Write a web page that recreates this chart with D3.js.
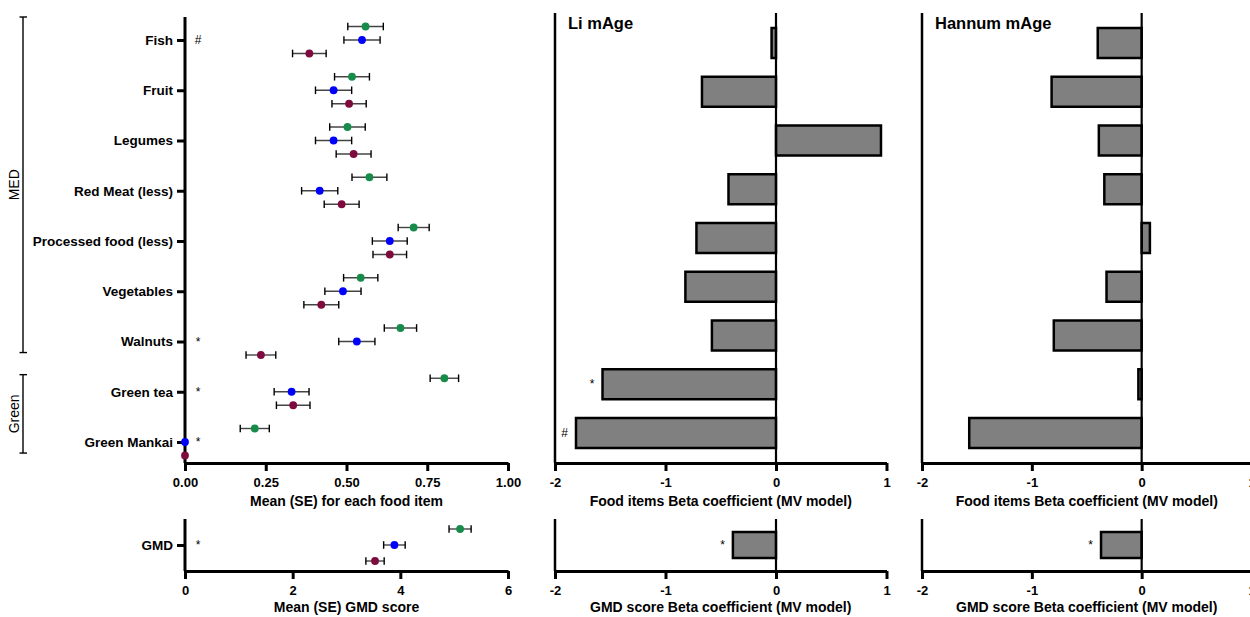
<!DOCTYPE html>
<html>
<head>
<meta charset="utf-8">
<script src="https://cdn.jsdelivr.net/npm/d3@7"></script>
<style>
body { margin: 0; background: #fff; }
svg text { font-family: "Liberation Sans", Arial, Helvetica, sans-serif; fill: #000; }
</style>
</head>
<body>
<svg id="chart" width="1250" height="617"></svg>
<script>
"use strict";

// Food items, top to bottom
const foods = ["Fish", "Fruit", "Legumes", "Red Meat (less)", "Processed food (less)",
    "Vegetables", "Walnuts", "Green tea", "Green Mankai"];

// Three diet groups (drawn green, blue, maroon)
const seriesNames = ["green", "blue", "maroon"];
const seriesColors = ["#178b4a", "#0000ff", "#7e0b3e"];

// Mean (SE) for each food item
const greenMean = [0.559, 0.517, 0.503, 0.571, 0.708, 0.544, 0.667, 0.803, 0.216];
const greenSE = [0.055, 0.054, 0.055, 0.054, 0.048, 0.053, 0.050, 0.044, 0.045];
const blueMean = [0.548, 0.460, 0.460, 0.417, 0.634, 0.489, 0.532, 0.330, 0];
const blueSE = [0.056, 0.056, 0.056, 0.056, 0.054, 0.056, 0.056, 0.054, 0];
const maroonMean = [0.385, 0.508, 0.522, 0.485, 0.634, 0.422, 0.235, 0.335, 0];
const maroonSE = [0.052, 0.053, 0.054, 0.054, 0.052, 0.054, 0.046, 0.052, 0];
const foodMarks = ["#", "", "", "", "", "", "*", "*", "*"];

// Mean (SE) GMD score, green / blue / maroon
const gmdMean = [5.11, 3.89, 3.53];
const gmdSE = [0.205, 0.20, 0.17];
const gmdMark = "*";

// Beta coefficients (MV model)
const liBeta = [-0.04, -0.67, 0.95, -0.43, -0.72, -0.82, -0.58, -1.57, -1.81];
const liMarks = ["", "", "", "", "", "", "", "*", "#"];
const hannumBeta = [-0.40, -0.82, -0.39, -0.34, 0.075, -0.32, -0.80, -0.03, -1.57];
const hannumMarks = ["", "", "", "", "", "", "", "", ""];
const liGmdBeta = -0.39;
const hannumGmdBeta = -0.37;

// Tick values
const meanTicks = [0, 0.25, 0.5, 0.75, 1];
const gmdTicks = [0, 2, 4, 6];
const betaTicks = [-2, -1, 0, 1];

// Food groups at the far left
const foodGroups = [
    {name: "MED", first: "Fish", last: "Walnuts"},
    {name: "Green", first: "Green tea", last: "Green Mankai"}
];

const svg = d3.select("#chart");

// Layout
const topPanel = {top: 17, bottom: 463},
    gmdPanel = {top: 519, bottom: 571},
    betaTop = 13;

const meanX = d3.scaleLinear().domain([0, 1]).range([185, 508]),
    gmdX = d3.scaleLinear().domain([0, 6]).range([185, 508]),
    foodY = d3.scalePoint().domain(foods).range([40, 442]),
    gmdY = d3.scalePoint().domain(["GMD"]).range([545, 545]),
    seriesOffset = d3.scalePoint().domain(seriesNames).range([-13.5, 13.5]),
    gmdOffset = d3.scalePoint().domain(seriesNames).range([-16, 16]),
    seriesColor = d3.scaleOrdinal().domain(seriesNames).range(seriesColors),
    liX = d3.scaleLinear().domain([-2, 1]).range([555, 886.5]),
    hannumX = d3.scaleLinear().domain([-2, 1]).range([922, 1251.5]),
    betaY = d3.scalePoint().domain(foods).range([43, 433]);

function styleAxis(g, size) {
    g.select(".domain").attr("stroke", "#000").attr("stroke-width", 3);
    g.selectAll(".tick line").attr("stroke", "#000").attr("stroke-width", 3);
    g.selectAll(".tick text")
        .attr("font-size", size || 13)
        .attr("font-weight", "bold")
        .attr("fill", "#000");
}

function axisTitle(x, y, text) {
    svg.append("text")
        .attr("x", x).attr("y", y)
        .attr("text-anchor", "middle")
        .attr("font-size", 14)
        .attr("font-weight", "bold")
        .text(text);
}

function drawDots(rows, xScale, yScale, offset) {
    const g = svg.append("g");
    const pts = g.selectAll("g.pt").data(rows).enter().append("g")
        .attr("transform", (d) => `translate(0,${yScale(d.cat) + offset(d.series)})`);
    pts.filter((d) => d.se > 0).append("line")
        .attr("x1", (d) => xScale(d.mean - d.se))
        .attr("x2", (d) => xScale(d.mean + d.se))
        .attr("stroke", "#444").attr("stroke-width", 1.4);
    [-1, 1].forEach((s) => {
        pts.filter((d) => d.se > 0).append("line")
            .attr("x1", (d) => xScale(d.mean + s * d.se))
            .attr("x2", (d) => xScale(d.mean + s * d.se))
            .attr("y1", -3.8).attr("y2", 3.8)
            .attr("stroke", "#000").attr("stroke-width", 1.4);
    });
    pts.append("circle")
        .attr("cx", (d) => xScale(d.mean))
        .attr("r", 3.9)
        .attr("fill", (d) => seriesColor(d.series));
}

function drawMarks(x, yScale, cats, marks) {
    svg.append("g").selectAll("text")
        .data(cats.map((c, i) => ({cat: c, mark: marks[i]})).filter((d) => d.mark))
        .enter().append("text")
        .attr("x", x)
        .attr("y", (d) => yScale(d.cat) + 4)
        .attr("text-anchor", "middle")
        .attr("font-size", 12)
        .text((d) => d.mark);
}

// ---------- Left: mean (SE) per food item ----------
const foodRows = [];
foods.forEach((f, i) => {
    foodRows.push({cat: f, series: "green", mean: greenMean[i], se: greenSE[i]});
    foodRows.push({cat: f, series: "blue", mean: blueMean[i], se: blueSE[i]});
    foodRows.push({cat: f, series: "maroon", mean: maroonMean[i], se: maroonSE[i]});
});

svg.append("g")
    .attr("transform", `translate(0,${topPanel.bottom})`)
    .call(d3.axisBottom(meanX).tickValues(meanTicks).tickFormat(d3.format(".2f"))
        .tickSize(8).tickPadding(7).tickSizeOuter(0))
    .call((g) => styleAxis(g));

svg.append("g")
    .attr("transform", `translate(${meanX(0)},0)`)
    .call(d3.axisLeft(foodY).tickSize(8).tickPadding(4).tickSizeOuter(0))
    .call((g) => styleAxis(g, 13.5))
    .call((g) => g.select(".domain").attr("d", `M0,${topPanel.top}V${topPanel.bottom}`));

drawDots(foodRows, meanX, foodY, seriesOffset);
drawMarks(meanX(0) + 13, foodY, foods, foodMarks);
axisTitle((meanX.range()[0] + meanX.range()[1]) / 2, 506, "Mean (SE) for each food item");

// Group brackets
foodGroups.forEach((grp) => {
    const step = foodY.step();
    const y0 = grp.first === foods[0] ? topPanel.top : foodY(grp.first) - step * 0.34,
        y1 = foodY(grp.last) + step * 0.22;
    const g = svg.append("g").attr("stroke", "#000").attr("stroke-width", 1.4);
    g.append("line").attr("x1", 23).attr("x2", 23).attr("y1", y0).attr("y2", y1);
    g.append("line").attr("x1", 19.5).attr("x2", 27).attr("y1", y0).attr("y2", y0);
    g.append("line").attr("x1", 19.5).attr("x2", 27).attr("y1", y1).attr("y2", y1);
    svg.append("text")
        .attr("transform", `translate(19,${(y0 + y1) / 2}) rotate(-90)`)
        .attr("text-anchor", "middle")
        .attr("font-size", 14)
        .text(grp.name);
});

// ---------- Left bottom: GMD score ----------
const gmdRows = seriesNames.map((s, i) => ({cat: "GMD", series: s, mean: gmdMean[i], se: gmdSE[i]}));

svg.append("g")
    .attr("transform", `translate(0,${gmdPanel.bottom})`)
    .call(d3.axisBottom(gmdX).tickValues(gmdTicks).tickFormat(d3.format("d"))
        .tickSize(8).tickPadding(7).tickSizeOuter(0))
    .call((g) => styleAxis(g));

svg.append("g")
    .attr("transform", `translate(${gmdX(0)},0)`)
    .call(d3.axisLeft(gmdY).tickSize(8).tickPadding(4).tickSizeOuter(0))
    .call((g) => styleAxis(g, 13.5))
    .call((g) => g.select(".domain").attr("d", `M0,${gmdPanel.top}V${gmdPanel.bottom}`));

drawDots(gmdRows, gmdX, gmdY, gmdOffset);
drawMarks(gmdX(0) + 13, gmdY, ["GMD"], [gmdMark]);
axisTitle((gmdX.range()[0] + gmdX.range()[1]) / 2, 612, "Mean (SE) GMD score");

// ---------- Beta coefficient panels ----------
function betaPanel(xScale, values, marks, gmdValue, title) {
    const xMid = (xScale.range()[0] + xScale.range()[1]) / 2;
    const barH = 30;
    const rows = foods.map((f, i) => ({cat: f, v: values[i], mark: marks[i]}));

    svg.append("g")
        .attr("transform", `translate(0,${topPanel.bottom})`)
        .call(d3.axisBottom(xScale).tickValues(betaTicks).tickFormat((d) => String(d))
            .tickSize(8).tickPadding(7).tickSizeOuter(0))
        .call((g) => styleAxis(g));
    svg.append("line")
        .attr("x1", xScale(-2)).attr("x2", xScale(-2))
        .attr("y1", betaTop).attr("y2", topPanel.bottom)
        .attr("stroke", "#000").attr("stroke-width", 2.5);

    svg.append("g").selectAll("rect").data(rows).enter().append("rect")
        .attr("x", (d) => xScale(Math.min(0, d.v)))
        .attr("width", (d) => Math.abs(xScale(d.v) - xScale(0)))
        .attr("y", (d) => betaY(d.cat) - barH / 2)
        .attr("height", barH)
        .attr("fill", "#808080")
        .attr("stroke", "#000")
        .attr("stroke-width", 2.5);

    svg.append("line")
        .attr("x1", xScale(0)).attr("x2", xScale(0))
        .attr("y1", betaTop).attr("y2", topPanel.bottom)
        .attr("stroke", "#000").attr("stroke-width", 2.2);

    svg.append("g").selectAll("text").data(rows.filter((d) => d.mark)).enter().append("text")
        .attr("x", (d) => xScale(Math.min(0, d.v)) - 8)
        .attr("y", (d) => betaY(d.cat) + 4)
        .attr("text-anchor", "end")
        .attr("font-size", 12)
        .text((d) => d.mark);

    svg.append("text")
        .attr("x", xScale(-2) + 13).attr("y", 29)
        .attr("font-size", 16.5)
        .attr("font-weight", "bold")
        .text(title);

    axisTitle(xMid, 506, "Food items Beta coefficient (MV model)");

    // GMD score panel
    const gbarH = 26;
    svg.append("g")
        .attr("transform", `translate(0,${gmdPanel.bottom})`)
        .call(d3.axisBottom(xScale).tickValues(betaTicks).tickFormat((d) => String(d))
            .tickSize(8).tickPadding(7).tickSizeOuter(0))
        .call((g) => styleAxis(g));
    svg.append("line")
        .attr("x1", xScale(-2)).attr("x2", xScale(-2))
        .attr("y1", gmdPanel.top).attr("y2", gmdPanel.bottom)
        .attr("stroke", "#000").attr("stroke-width", 2.5);
    svg.append("rect")
        .attr("x", xScale(Math.min(0, gmdValue)))
        .attr("width", Math.abs(xScale(gmdValue) - xScale(0)))
        .attr("y", gmdY("GMD") - gbarH / 2)
        .attr("height", gbarH)
        .attr("fill", "#808080")
        .attr("stroke", "#000")
        .attr("stroke-width", 2.5);
    svg.append("line")
        .attr("x1", xScale(0)).attr("x2", xScale(0))
        .attr("y1", gmdPanel.top).attr("y2", gmdPanel.bottom)
        .attr("stroke", "#000").attr("stroke-width", 2.2);
    svg.append("text")
        .attr("x", xScale(Math.min(0, gmdValue)) - 8)
        .attr("y", gmdY("GMD") + 4)
        .attr("text-anchor", "end")
        .attr("font-size", 12)
        .text(gmdMark);

    axisTitle(xMid, 612, "GMD score Beta coefficient (MV model)");
}

betaPanel(liX, liBeta, liMarks, liGmdBeta, "Li mAge");
betaPanel(hannumX, hannumBeta, hannumMarks, hannumGmdBeta, "Hannum mAge");
</script>
</body>
</html>
